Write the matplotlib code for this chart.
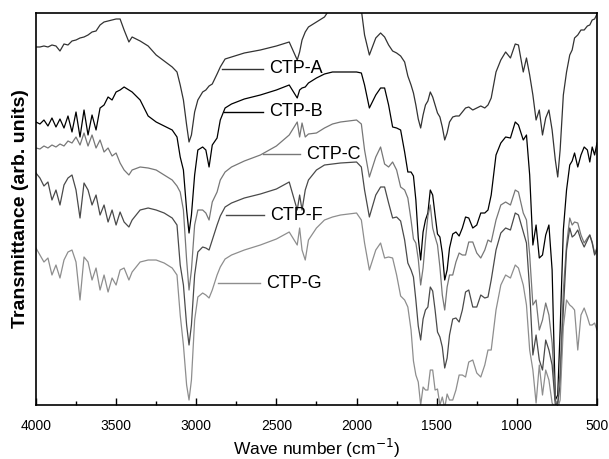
import numpy as np
import matplotlib
matplotlib.use('Agg')
import matplotlib.pyplot as plt
from matplotlib.ticker import MultipleLocator

plt.rcParams['font.family'] = ['Liberation Sans', 'DejaVu Sans']

# wave number grid (cm-1)
wavenumber = [4000, 3975, 3950, 3925, 3900, 3875, 3850, 3825, 3800, 3775,
              3750, 3725, 3700, 3675, 3650, 3625, 3600, 3575, 3550, 3525,
              3500, 3475, 3450,
              3420, 3400, 3350, 3300, 3250, 3200, 3150, 3120,
              3100, 3080, 3060, 3045, 3030, 3010, 2990, 2960, 2940, 2920,
              2900, 2870, 2850, 2820, 2780, 2700, 2600, 2500, 2420, 2370,
              2355, 2340, 2320, 2300, 2250, 2200, 2150, 2100, 2000, 1970,
              1950, 1920,
              1880, 1850, 1825, 1800, 1775, 1750, 1725, 1700, 1680, 1660,
              1645, 1630, 1615, 1600, 1585, 1570, 1555, 1540, 1525, 1510,
              1495, 1480, 1465, 1450, 1435, 1420, 1400, 1380, 1360, 1340,
              1320, 1300, 1275, 1250, 1225, 1200, 1180, 1160,
              1130, 1100, 1070, 1040, 1010, 990, 960, 940,
              920, 900, 880, 860, 840, 820, 800, 780, 760, 745,
              730, 710, 690, 670, 655, 640, 620, 600, 580, 560, 545, 530, 515, 500]

# transmittance, arbitrary units (stacked spectra)
ctp_a = [358, 358, 359, 358, 360, 359, 354, 361, 360, 364,
         365, 367, 368, 370, 373, 374, 380, 383, 384, 385,
         386, 386, 375,
         363, 368, 364, 359, 350, 344, 338, 333,
         320, 305, 280, 263, 270, 293, 305, 313, 315, 319,
         321, 331, 338, 346, 348, 352, 355, 359, 363, 345,
         353, 365, 373, 378, 383, 388, 400, 415, 415, 395,
         370, 350,
         367, 372, 368, 360, 354, 352, 349, 343, 329, 320,
         312, 300, 286, 277, 290, 300, 304, 313, 308, 300,
         292, 288, 278, 265, 272, 283, 288, 289, 289, 293,
         297, 298, 295, 297, 299, 297, 300, 307,
         333, 345, 353, 347, 361, 360, 333, 347,
         330, 310, 285, 295, 270, 287, 295, 275, 245, 228,
         255, 310, 333, 350, 355, 367, 370, 375, 375, 379, 380, 385, 386, 391]
ctp_b = [283, 281, 285, 279, 287, 278, 286, 277, 289, 273,
         293, 268, 295, 270, 290, 275, 297, 300, 308, 305,
         313, 315, 318,
         315, 313, 305, 289, 283, 279, 275, 268,
         248, 235, 195, 172, 190, 230, 255, 258, 255, 238,
         260, 267, 285, 297, 301, 306, 310, 315, 320, 307,
         315, 317, 318, 322, 327, 331, 333, 333, 333, 332,
         320, 297,
         310, 317, 317, 300, 278, 277, 275, 253, 233, 233,
         229, 205, 167, 145, 173, 185, 192, 215, 210, 190,
         171, 168, 152, 125, 135, 157, 171, 173, 169, 177,
         188, 187, 177, 180, 192, 192, 195, 210,
         250, 262, 268, 267, 283, 280, 265, 270,
         230, 160, 180, 147, 150, 170, 180, 135, 5, 10,
         75, 175, 215, 240, 244, 252, 238, 250, 258, 255, 243, 258, 250, 262]
ctp_c = [257, 256, 259, 257, 260, 258, 261, 259, 264, 262,
         268, 260, 272, 259, 270, 257, 265, 253, 257, 249,
         252, 242, 235,
         230, 235, 238, 237, 235, 230, 225, 219,
         213, 195, 145, 115, 135, 180, 195, 195, 192, 185,
         203, 213, 225, 233, 238, 244, 250, 259, 270, 283,
         268, 282, 268, 271, 272, 277, 281, 283, 285, 281,
         255, 228,
         248, 258, 241, 238, 243, 235, 218, 215, 207, 185,
         166, 162, 146, 120, 137, 165, 189, 200, 177, 168,
         160, 138, 110, 95, 118, 130, 130, 143, 152, 150,
         150, 163, 163, 152, 147, 155, 165, 163,
         185, 200, 203, 200, 215, 213, 192, 185,
         150, 100, 105, 75, 85, 102, 90, 62, 5, 0,
         35, 115, 160, 187, 180, 183, 182, 170, 162, 167, 170, 163, 152, 157]
ctp_f = [232, 227, 219, 223, 205, 215, 200, 220, 227, 230,
         215, 187, 222, 215, 200, 210, 190, 200, 183, 195,
         180, 193, 183,
         178, 185, 195, 197, 195, 192, 187, 180,
         140, 120, 80, 60, 80, 130, 153, 158, 157, 155,
         165, 180, 189, 198, 202, 207, 211, 216, 223, 195,
         210, 195, 215, 225, 235, 240, 241, 242, 243, 238,
         215, 188,
         210, 218, 218, 202, 187, 188, 184, 165, 142, 135,
         128, 105, 79, 65, 86, 95, 98, 118, 114, 95,
         73, 68, 58, 37, 47, 70, 86, 87, 83, 95,
         113, 115, 98, 98, 110, 107, 108, 125,
         155, 172, 177, 175, 192, 190, 173, 162,
         115, 50, 70, 45, 35, 65, 55, 40, 0, 2,
         20, 95, 155, 177, 168, 170, 175, 165, 158, 165, 170, 162, 150, 155]
ctp_g = [157, 150, 143, 147, 130, 140, 127, 145, 153, 155,
         143, 105, 148, 143, 125, 137, 115, 130, 113, 127,
         120, 135, 137,
         125, 133, 143, 145, 145, 142, 137, 130,
         90, 60, 20, 5, 25, 85, 108, 112, 110, 107,
         115, 130, 138, 146, 150, 155, 160, 166, 173, 160,
         177, 155, 145, 165, 177, 185, 188, 190, 192, 185,
         162, 135,
         155, 162, 147, 148, 147, 130, 109, 105, 98, 75,
         44, 30, 23, 0, 18, 15, 15, 35, 35, 15,
         16, 0, 8, -3, 11, 5, 5, 15, 30, 30,
         28, 43, 45, 32, 28, 40, 55, 55,
         95, 120, 130, 127, 140, 137, 120, 100,
         55, 35, 2, 40, 10, 35, 25, 2, -3, -3,
         5, 78, 105, 100, 98, 95, 55, 90, 97, 88, 80, 80, 82, 75]

names = ['CTP-A', 'CTP-B', 'CTP-C', 'CTP-F', 'CTP-G']
colors = ['#333333', '#000000', '#777777', '#4a4a4a', '#8e8e8e']
# label leader: (start on curve, end near text, level) in cm-1 / T
label_line = [(2840, 2584, 336), (2827, 2584, 293), (2584, 2353, 251),
              (2815, 2578, 190), (2865, 2602, 122)]

fig = plt.figure(figsize=(6.09, 4.59), dpi=100)
ax = fig.add_axes([0.059, 0.1176, 0.9213, 0.8541])

for y, c in zip([ctp_a, ctp_b, ctp_c, ctp_f, ctp_g], colors):
    ax.plot(wavenumber, y, color=c, lw=0.9)

for name, c, (x0, x1, yy) in zip(names, colors, label_line):
    ax.plot([x0, x1], [yy, yy], color=c, lw=1.0)
    ax.text(x1 - 38, yy, name, fontsize=13, va='center', ha='left')

ax.set_xlim(4000, 500)
ax.set_ylim(0, 392)
ax.xaxis.set_major_locator(MultipleLocator(500))
ax.xaxis.set_minor_locator(MultipleLocator(250))
ax.tick_params(axis='x', which='both', direction='in', labelsize=10, pad=10)
ax.tick_params(axis='x', which='major', length=5, width=1)
ax.tick_params(axis='x', which='minor', length=3, width=1)
ax.set_yticks([])
for s in ax.spines.values():
    s.set_linewidth(1.2)

ax.set_xlabel('Wave number (cm$^{-1}$)', fontsize=12.5, labelpad=3)
ax.set_ylabel('Transmittance (arb. units)', fontsize=14, fontweight='bold',
              labelpad=5)

fig.savefig('out.png', dpi=100)
